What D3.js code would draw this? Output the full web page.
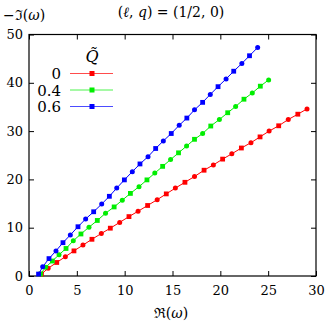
<!DOCTYPE html>
<html>
<head>
<meta charset="utf-8">
<script src="https://cdn.jsdelivr.net/npm/d3@7"></script>
<style>
  body { margin: 0; background: #fff; }
  svg { display: block; }
  svg text { font-family: "DejaVu Serif", serif !important; fill: #000; }
</style>
</head>
<body>
<div id="graph"><svg></svg></div>
<script>
// data
let qLabels = ["0", "0.4", "0.6"];
let colors = ["#ff0000", "#00ee00", "#0000ff"];

let reQ0 = [1.3, 2.0, 2.9, 3.8, 4.7, 5.64, 6.58, 7.56, 8.5, 9.48, 10.45, 11.4, 12.4, 13.4, 14.35,
  15.3, 16.3, 17.3, 18.3, 19.27, 20.24, 21.2, 22.2, 23.2, 24.15, 25.1, 26.1, 27.1, 28.1, 29.06];
let imQ0 = [0.4, 1.6, 2.8, 4.0, 5.2, 6.4, 7.6, 8.8, 9.9, 11.1, 12.3, 13.4, 14.6, 15.8, 17.0,
  18.2, 19.4, 20.6, 21.9, 23.0, 24.2, 25.3, 26.5, 27.6, 28.8, 30.0, 31.1, 32.4, 33.5, 34.6];

let reQ04 = [1.2, 1.74, 2.44, 3.14, 3.87, 4.63, 5.43, 6.27, 7.14, 8.0, 8.9, 9.75, 10.6, 11.5, 12.33,
  13.15, 13.97, 14.8, 15.63, 16.47, 17.3, 18.15, 19.0, 19.9, 20.77, 21.6, 22.47, 23.34, 24.18, 25.05];
let imQ04 = [0.4, 1.8, 3.1, 4.4, 5.7, 7.3, 8.7, 10.1, 11.5, 13.0, 14.3, 15.7, 17.1, 18.5, 19.9,
  21.3, 22.7, 24.1, 25.5, 26.9, 28.3, 29.5, 31.05, 32.4, 33.8, 35.1, 36.6, 37.9, 39.3, 40.6];

let reQ06 = [1.0, 1.43, 2.09, 2.82, 3.55, 4.32, 5.12, 5.92, 6.76, 7.6, 8.4, 9.17, 9.97, 10.8, 11.6,
  12.44, 13.24, 14.04, 14.87, 15.7, 16.5, 17.3, 18.15, 18.95, 19.76, 20.6, 21.4, 22.25, 23.05, 23.9];
let imQ06 = [0.4, 1.9, 3.6, 5.2, 6.9, 8.5, 10.2, 11.8, 13.3, 14.9, 16.5, 18.2, 19.9, 21.6, 23.2,
  24.7, 26.4, 27.96, 29.5, 31.2, 32.7, 34.4, 35.95, 37.6, 39.2, 40.8, 42.4, 44.0, 45.6, 47.3];

let xTicks = [0, 5, 10, 15, 20, 25, 30];
let yTicks = [0, 10, 20, 30, 40, 50];

let series = [
  { re: reQ0, im: imQ0 },
  { re: reQ04, im: imQ04 },
  { re: reQ06, im: imQ06 }
];

let svg = d3.select("div#graph svg").attr("width", 329).attr("height", 326);

let x = d3.scaleLinear().domain([0, 30]).range([29, 316]);
let y = d3.scaleLinear().domain([0, 50]).range([276, 34.5]);

// axes with inward ticks
svg.append("g")
  .attr("transform", "translate(0,276)")
  .call(d3.axisBottom(x).tickValues(xTicks).tickSizeInner(-5).tickSizeOuter(0).tickPadding(10))
  .call(g => g.select(".domain").remove())
  .call(g => g.selectAll("text").style("font-size", "13px"));

svg.append("g")
  .attr("transform", "translate(0,34.5)")
  .call(d3.axisTop(x).tickValues(xTicks).tickSizeInner(-5).tickSizeOuter(0).tickFormat(""))
  .call(g => g.select(".domain").remove());

svg.append("g")
  .attr("transform", "translate(29,0)")
  .call(d3.axisLeft(y).tickValues(yTicks).tickSizeInner(-5).tickSizeOuter(0).tickPadding(6))
  .call(g => g.select(".domain").remove())
  .call(g => g.selectAll("text").style("font-size", "13px"));

svg.append("g")
  .attr("transform", "translate(316,0)")
  .call(d3.axisRight(y).tickValues(yTicks).tickSizeInner(-5).tickSizeOuter(0).tickFormat(""))
  .call(g => g.select(".domain").remove());

svg.selectAll(".tick line").attr("stroke", "#000");

// frame
svg.append("rect")
  .attr("x", x(0)).attr("y", y(50))
  .attr("width", x(30) - x(0)).attr("height", y(0) - y(50))
  .attr("fill", "none").attr("stroke", "#000").attr("stroke-width", 1.2);

// series
let line = d3.line().x(d => x(d[0])).y(d => y(d[1]));

series.forEach((s, k) => {
  let pts = s.re.map((r, i) => [r, s.im[i]]);
  let g = svg.append("g");
  g.append("path").datum(pts)
    .attr("d", line)
    .attr("fill", "none")
    .attr("stroke", colors[k])
    .attr("stroke-width", 1);
  // squares on even points, circles on odd
  g.selectAll("rect")
    .data(pts.filter((d, i) => i % 2 == 0))
    .enter().append("rect")
    .attr("x", d => x(d[0]) - 2.4).attr("y", d => y(d[1]) - 2.4)
    .attr("width", 4.8).attr("height", 4.8)
    .attr("fill", colors[k]);
  g.selectAll("circle")
    .data(pts.filter((d, i) => i % 2 == 1))
    .enter().append("circle")
    .attr("cx", d => x(d[0])).attr("cy", d => y(d[1]))
    .attr("r", 2.5)
    .attr("fill", colors[k]);
});

// legend
let legend = svg.append("g");
legend.append("text")
  .attr("x", 92).attr("y", 62)
  .attr("text-anchor", "middle")
  .style("font-size", "16px").style("font-style", "italic")
  .text("Q\u0303");

qLabels.forEach((lab, k) => {
  let ly = 73.5 + k * 16.5;
  legend.append("text")
    .attr("x", 61).attr("y", ly + 5.5)
    .attr("text-anchor", "end")
    .style("font-size", "15px")
    .text(lab);
  legend.append("line")
    .attr("x1", 70).attr("x2", 113)
    .attr("y1", ly).attr("y2", ly)
    .attr("stroke", colors[k]).attr("stroke-width", 1).attr("stroke-opacity", 0.7);
  legend.append("rect")
    .attr("x", 92 - 2.5).attr("y", ly - 2.5)
    .attr("width", 5).attr("height", 5)
    .attr("fill", colors[k]);
});

// titles
svg.append("text")
  .attr("x", 3).attr("y", 20)
  .style("font-size", "14px")
  .html("−ℑ(<tspan font-style='italic'>ω</tspan>)");

svg.append("text")
  .attr("x", 171).attr("y", 17)
  .attr("text-anchor", "middle")
  .style("font-size", "14px")
  .html("(<tspan font-style='italic'>ℓ</tspan>, <tspan font-style='italic'>q</tspan>) = (1/2, 0)");

svg.append("text")
  .attr("x", 171).attr("y", 318)
  .attr("text-anchor", "middle")
  .style("font-size", "14px")
  .html("ℜ(<tspan font-style='italic'>ω</tspan>)");
</script>
</body>
</html>
